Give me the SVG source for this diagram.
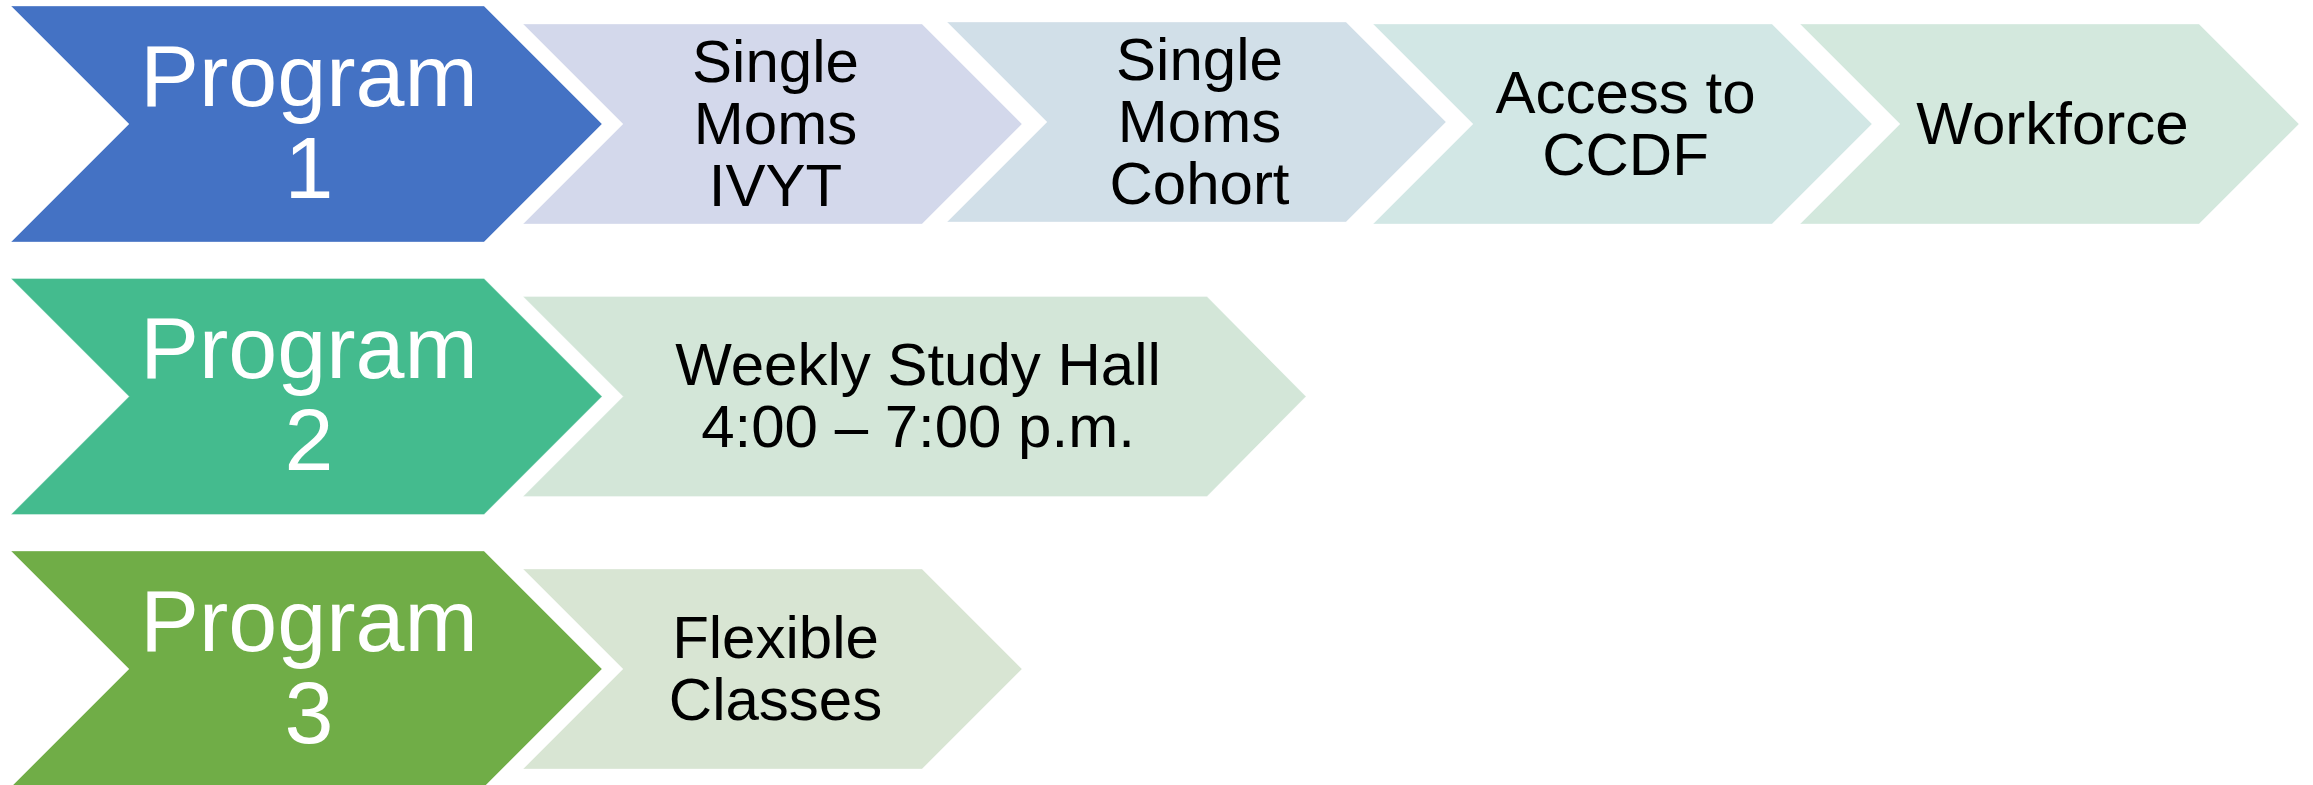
<svg xmlns="http://www.w3.org/2000/svg" width="2313" height="785" viewBox="0 0 2313 785">
  <style>
    .lead { font-family: "Liberation Sans", Arial, sans-serif; font-size: 88px; fill: #ffffff; text-anchor: middle; }
    .step { font-family: "Liberation Sans", Arial, sans-serif; font-size: 60px; fill: #000000; text-anchor: middle; }
    .edge { stroke: #ffffff; stroke-opacity: 0.35; stroke-width: 1; }
  </style>
  <rect x="0" y="0" width="2313" height="785" fill="#ffffff"/>

  <!-- Row 1 -->
  <g id="program1">
    <polygon class="edge" points="11,6 484,6 602,124 484,242 11,242 129,124" fill="#4472C4"/>
    <text class="lead" x="309" y="106">Program<tspan x="309" y="198">1</tspan></text>
  </g>
  <g id="single-moms-ivyt">
    <polygon class="edge" points="523,24 922,24 1022,124 922,224 523,224 623,124" fill="#D3D8EB"/>
    <text class="step" x="775.5" y="82">Single<tspan x="775.5" y="144">Moms</tspan><tspan x="775.5" y="206">IVYT</tspan></text>
  </g>
  <g id="single-moms-cohort">
    <polygon class="edge" points="947,22 1346,22 1446,122 1346,222 947,222 1047,122" fill="#D1DFE8"/>
    <text class="step" x="1199.5" y="80">Single<tspan x="1199.5" y="142">Moms</tspan><tspan x="1199.5" y="204">Cohort</tspan></text>
  </g>
  <g id="access-ccdf">
    <polygon class="edge" points="1373,24 1772,24 1872,124 1772,224 1373,224 1473,124" fill="#D2E7E5"/>
    <text class="step" x="1625.5" y="113">Access to<tspan x="1625.5" y="175">CCDF</tspan></text>
  </g>
  <g id="workforce">
    <polygon class="edge" points="1800,24 2199,24 2299,124 2199,224 1800,224 1900,124" fill="#D3E8DD"/>
    <text class="step" x="2052.5" y="144">Workforce</text>
  </g>

  <!-- Row 2 -->
  <g id="program2">
    <polygon class="edge" points="11,278.5 484,278.5 602,396.5 484,514.5 11,514.5 129,396.5" fill="#44BB8E"/>
    <text class="lead" x="309" y="378">Program<tspan x="309" y="470">2</tspan></text>
  </g>
  <g id="weekly-study-hall">
    <polygon class="edge" points="523,296.5 1207,296.5 1306,396.5 1207,496.5 523,496.5 623,396.5" fill="#D3E6D8"/>
    <text class="step" x="918" y="385">Weekly Study Hall<tspan x="918" y="447">4:00 – 7:00 p.m.</tspan></text>
  </g>

  <!-- Row 3 -->
  <g id="program3">
    <polygon class="edge" points="11,551 484,551 602,669 484,787 11,787 129,669" fill="#70AD47"/>
    <text class="lead" x="309" y="651">Program<tspan x="309" y="743">3</tspan></text>
  </g>
  <g id="flexible-classes">
    <polygon class="edge" points="523,569 922,569 1022,669 922,769 523,769 623,669" fill="#D8E5D3"/>
    <text class="step" x="775.5" y="658">Flexible<tspan x="775.5" y="720">Classes</tspan></text>
  </g>

  <!-- The chevrons abut one another directly; there are no separate connector lines. -->
  <g id="connectors"/>
</svg>
